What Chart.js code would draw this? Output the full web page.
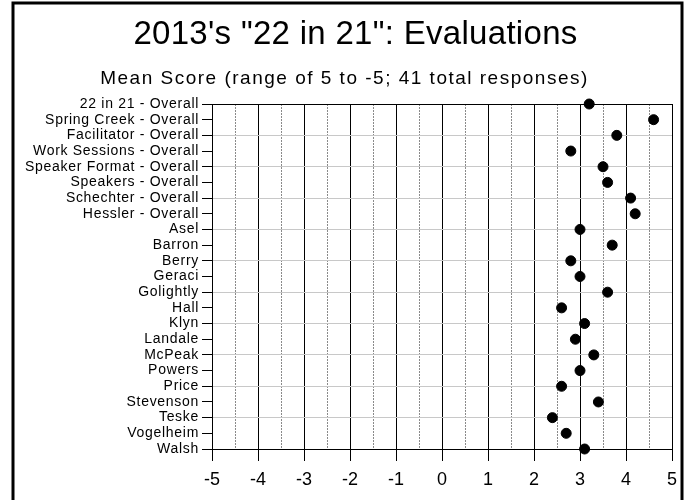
<!DOCTYPE html>
<html>
<head>
<meta charset="utf-8">
<script src="https://cdn.jsdelivr.net/npm/chart.js@4.4.0/dist/chart.umd.min.js"></script>
<style>
  html, body { margin: 0; padding: 0; background: #fff; }
  #wrap { width: 689px; height: 500px; }
</style>
</head>
<body>
<div id="wrap"><canvas id="graphEvaluations"></canvas></div>
<script>
// Categorias (de arriba hacia abajo)
const rowLabels = [
    '22 in 21 - Overall', 'Spring Creek - Overall', 'Facilitator - Overall',
    'Work Sessions - Overall', 'Speaker Format - Overall', 'Speakers - Overall',
    'Schechter - Overall', 'Hessler - Overall', 'Asel', 'Barron', 'Berry',
    'Geraci', 'Golightly', 'Hall', 'Klyn', 'Landale', 'McPeak', 'Powers',
    'Price', 'Stevenson', 'Teske', 'Vogelheim', 'Walsh'
];

// Puntaje medio por categoria
const meanScores = [
    3.2, 4.6, 3.8, 2.8, 3.5, 3.6, 4.1, 4.2, 3.0, 3.7, 2.8,
    3.0, 3.6, 2.6, 3.1, 2.9, 3.3, 3.0, 2.6, 3.4, 2.4, 2.7, 3.1
];

const scoreMin = -5;
const scoreMax = 5;

const chartTitle = '2013\'s "22 in 21": Evaluations';
const chartSubtitle = 'Mean Score (range of 5 to -5; 41 total responses)';

const fontFamily = '"Liberation Sans", Arial, sans-serif';

// Espaciado extra entre letras segun tamano de fuente (el original es mas ancho)
const spacingBySize = { '33': '0.3px', '19': '1.5px', '14': '0.7px' };

function widenText(ctx) {
    const desc = Object.getOwnPropertyDescriptor(CanvasRenderingContext2D.prototype, 'font');
    Object.defineProperty(ctx, 'font', {
        configurable: true,
        get() { return desc.get.call(this); },
        set(v) {
            desc.set.call(this, v);
            const m = /(\d+(?:\.\d+)?)px/.exec(v);
            this.letterSpacing = (m && spacingBySize[m[1]]) || '0px';
        }
    });
}

// Marco negro alrededor de la figura y titulo algo corrido a la derecha
const framePlugin = {
    id: 'frame',
    afterLayout(chart) {
        if (chart.titleBlock) {
            chart.titleBlock.left += 11;
            chart.titleBlock.right += 11;
        }
    },
    beforeDraw(chart) {
        const ctx = chart.ctx;
        ctx.save();
        ctx.fillStyle = '#fff';
        ctx.fillRect(0, 0, chart.width, chart.height);
        ctx.restore();
    },
    afterDraw(chart) {
        const ctx = chart.ctx;
        ctx.save();
        ctx.strokeStyle = '#000';
        ctx.lineWidth = 3;
        ctx.strokeRect(13, 3, 669, 600);
        ctx.restore();
    }
};

const isWhole = v => Math.abs(v - Math.round(v)) < 1e-6;

const points = meanScores.map((v, i) => ({ x: v, y: rowLabels[i] }));

const ctxEval = document.getElementById('graphEvaluations').getContext('2d');
widenText(ctxEval);

const chartEval = new Chart(ctxEval, {
    type: 'scatter',
    data: {
        datasets: [{
            label: 'Mean Score',
            data: points,
            backgroundColor: '#000',
            borderColor: '#000',
            pointRadius: 5,
            pointHoverRadius: 5,
            showLine: false
        }]
    },
    options: {
        responsive: true,
        maintainAspectRatio: false,
        animation: false,
        layout: { padding: { left: 17, right: 17, top: 0, bottom: 0 } },
        plugins: {
            legend: { display: false },
            tooltip: { enabled: false },
            title: {
                display: true,
                text: chartTitle,
                color: '#000',
                font: { family: fontFamily, size: 33, weight: 'normal' },
                padding: { top: 15, bottom: 6 }
            },
            subtitle: {
                display: true,
                text: chartSubtitle,
                color: '#000',
                font: { family: fontFamily, size: 19, weight: 'normal' },
                padding: { top: 7, bottom: 13.6 }
            }
        },
        scales: {
            x: {
                type: 'linear',
                min: scoreMin,
                max: scoreMax,
                afterFit(scale) { scale.height = 51; },
                ticks: {
                    stepSize: 0.5,
                    autoSkip: false,
                    maxRotation: 0,
                    color: '#000',
                    padding: 8,
                    font: { family: fontFamily, size: 18 },
                    callback: v => isWhole(v) ? String(v) : ''
                },
                grid: {
                    color: c => (c.tick && isWhole(c.tick.value)) ? '#000' : '#8a8a8a',
                    tickColor: c => (c.tick && isWhole(c.tick.value)) ? '#000' : 'rgba(0,0,0,0)',
                    tickLength: 12,
                    lineWidth: 1
                },
                border: {
                    display: true,
                    color: '#000',
                    width: 1,
                    dash: c => (c.tick && !isWhole(c.tick.value)) ? [2, 1] : []
                }
            },
            y: {
                type: 'category',
                labels: rowLabels,
                offset: false,
                afterFit(scale) { scale.width = 195; },
                ticks: {
                    autoSkip: false,
                    color: '#000',
                    padding: 3,
                    font: { family: fontFamily, size: 14 }
                },
                grid: {
                    color: c => {
                        const i = c.index;
                        if (i === 0 || i === rowLabels.length - 1) return '#000';
                        return i % 2 === 0 ? '#c8c8c8' : 'rgba(0,0,0,0)';
                    },
                    tickColor: '#000',
                    tickLength: 10,
                    lineWidth: 1
                },
                border: { display: true, color: '#000', width: 1 }
            }
        }
    },
    plugins: [framePlugin]
});
</script>
</body>
</html>
